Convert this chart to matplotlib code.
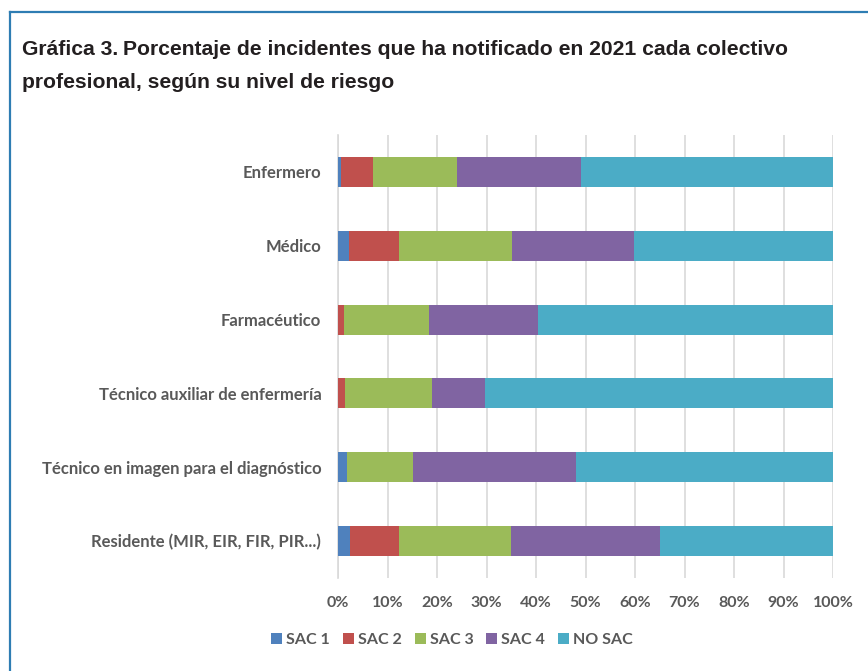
import matplotlib
matplotlib.use("Agg")
import matplotlib.pyplot as plt
from matplotlib.lines import Line2D
import numpy as np

# categories, top to bottom as in the chart
categories = [
    "Enfermero",
    "Médico",
    "Farmacéutico",
    "Técnico auxiliar de enfermería",
    "Técnico en imagen para el diagnóstico",
    "Residente (MIR, EIR, FIR, PIR...)",
]
series_names = ["SAC 1", "SAC 2", "SAC 3", "SAC 4", "NO SAC"]
sac1 = [0.6, 2.2, 0.0, 0.0, 1.8, 2.4]
sac2 = [6.5, 10.1, 1.2, 1.4, 0.0, 9.9]
sac3 = [16.9, 22.8, 17.2, 17.6, 13.3, 22.6]
sac4 = [25.1, 24.6, 22.0, 10.7, 32.9, 30.1]
no_sac = [50.9, 40.3, 59.6, 70.3, 52.0, 35.0]
x_ticks = [0, 10, 20, 30, 40, 50, 60, 70, 80, 90, 100]

colors = ["#4F81BD", "#C0504D", "#9BBB59", "#8064A2", "#4BACC6"]
label_color = "#595959"
label_font = "Lato"

fig = plt.figure(figsize=(8.68, 6.71), dpi=100)
ax = fig.add_axes([338 / 868, 1 - 578 / 671, (833 - 338) / 868, (578 - 135) / 671])

y = np.arange(len(categories))
left = np.zeros(len(categories))
for name, vals, c in zip(series_names, [sac1, sac2, sac3, sac4, no_sac], colors):
    ax.barh(y, vals, left=left, height=0.405, color=c, label=name, zorder=3)
    left += np.array(vals)

ax.set_xlim(0, 100)
ax.set_ylim(len(categories) - 0.5, -0.5)
ax.set_xticks(x_ticks)
ax.set_xticklabels([f"{t}%" for t in x_ticks])
ax.set_yticks(y)
ax.set_yticklabels(categories)
for lab in ax.get_yticklabels():
    lab.set_fontsize(12)
for lab in ax.get_xticklabels():
    lab.set_fontsize(11.5)
for lab in ax.get_xticklabels() + ax.get_yticklabels():
    lab.set_fontfamily(label_font)
    lab.set_fontweight("bold")
    lab.set_color(label_color)
ax.tick_params(axis="both", length=0)
ax.tick_params(axis="y", pad=12)
ax.tick_params(axis="x", pad=13)
ax.grid(axis="x", color="#D9D9D9", linewidth=1.2, zorder=0)
for s in ["top", "right", "bottom"]:
    ax.spines[s].set_visible(False)
ax.spines["left"].set_color("#D9D9D9")
ax.spines["left"].set_linewidth(1.2)

leg = fig.legend(loc="center", bbox_to_anchor=(452 / 868, 1 - 640 / 671), ncol=5,
                 frameon=False, handlelength=0.7, handleheight=0.7,
                 handletextpad=0.25, columnspacing=0.8,
                 prop={"family": label_font, "weight": "bold", "size": 11.5})
for t in leg.get_texts():
    t.set_color(label_color)

# frame lines (top and left only)
border = "#2E7DB3"
fig.add_artist(Line2D([9.5 / 868, 1], [1 - 12 / 671, 1 - 12 / 671], color=border, lw=1.6,
                      transform=fig.transFigure))
fig.add_artist(Line2D([9.5 / 868, 9.5 / 868], [0, 1 - 12 / 671], color=border, lw=1.6,
                      transform=fig.transFigure))

# title, first part heavier
title_color = "#231F20"
title_size = 15.2
t1 = fig.text(22 / 868, 1 - 55 / 671, "Gráfica 3.", fontsize=title_size, fontweight="heavy",
              family="Liberation Sans", color=title_color, va="baseline")
fig.canvas.draw()
bb = t1.get_window_extent()
fig.text(bb.x1 / 868 + 5 / 868, 1 - 55 / 671,
         "Porcentaje de incidentes que ha notificado en 2021 cada colectivo",
         fontsize=title_size, fontweight="bold", family="Liberation Sans", color=title_color,
         va="baseline")
fig.text(22 / 868, 1 - 88 / 671, "profesional, según su nivel de riesgo",
         fontsize=title_size, fontweight="bold", family="Liberation Sans", color=title_color,
         va="baseline")

fig.savefig("out.png", dpi=100)
